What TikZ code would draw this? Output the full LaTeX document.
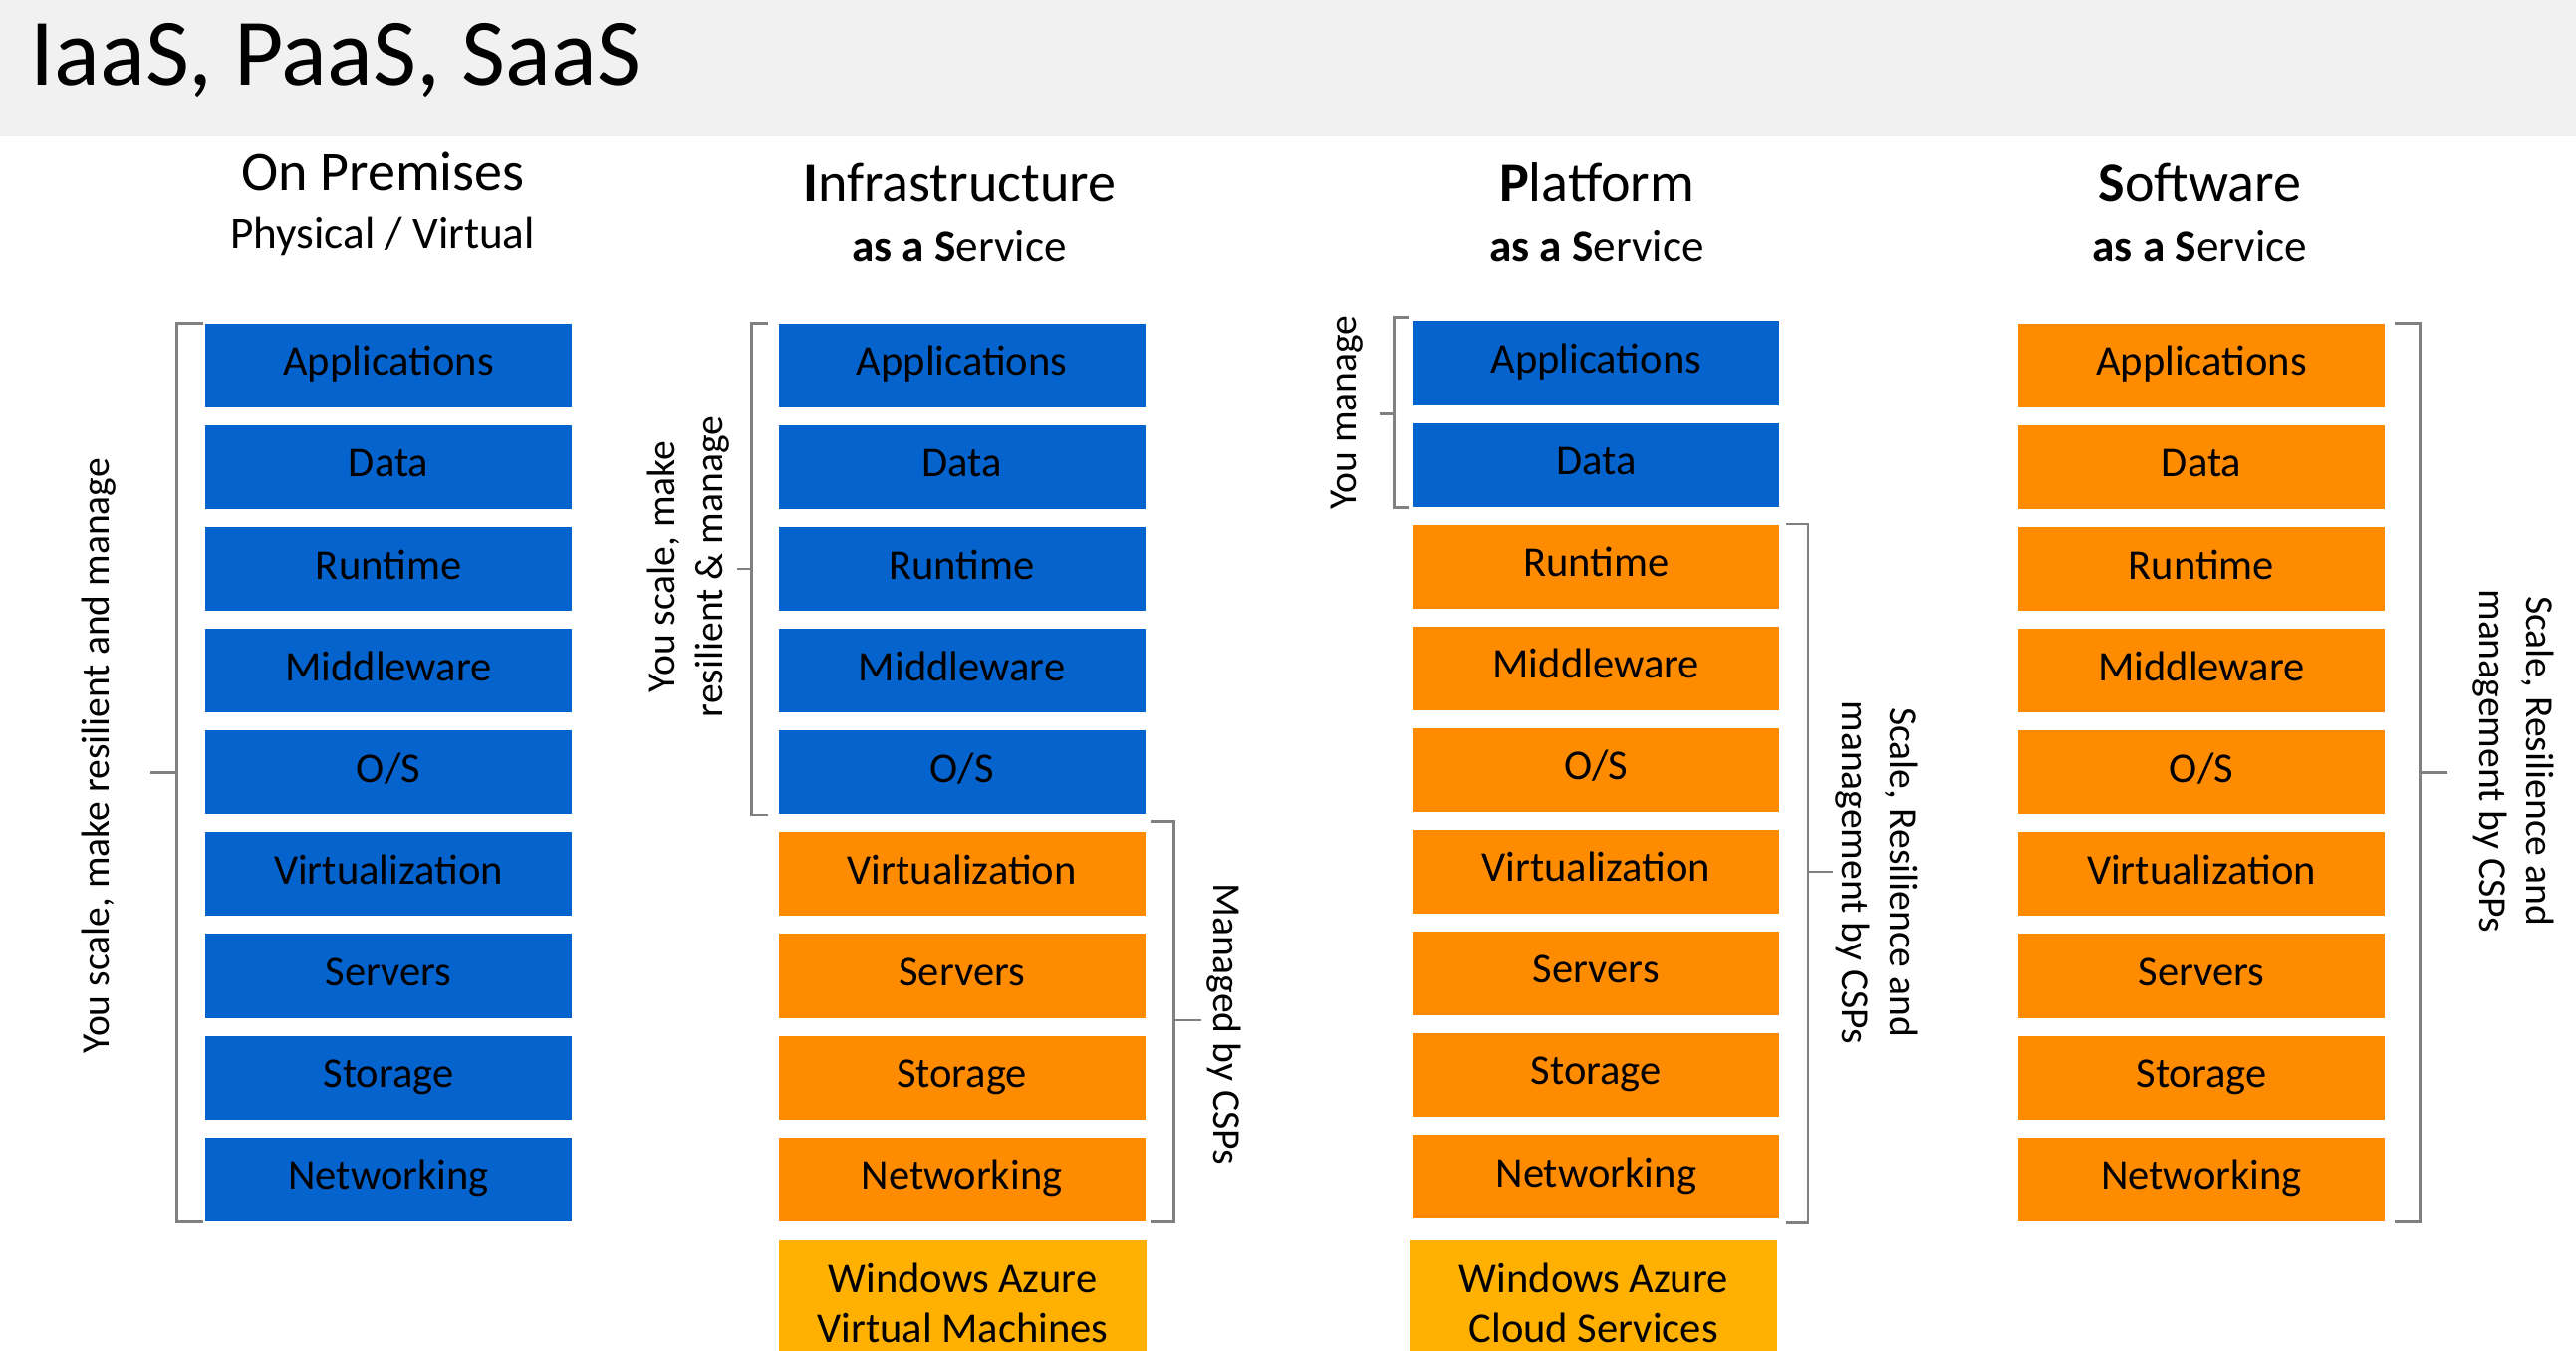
\documentclass[tikz,border=0pt]{standalone}
\usepackage{fontspec}
\setmainfont{Carlito}
\usetikzlibrary{calc}
\definecolor{layerblue}{RGB}{5,99,206}
\definecolor{layerorange}{RGB}{255,139,0}
\definecolor{azureyellow}{RGB}{255,176,0}
\definecolor{bargray}{RGB}{241,241,241}
\definecolor{bracegray}{RGB}{128,128,128}
\tikzset{
	layer/.style={minimum width=111.5pt, minimum height=25.5pt, inner sep=0pt, text height=9pt, text depth=3pt, font=\fontsize{12.9}{15}\selectfont},
	blue layer/.style={layer, fill=layerblue},
	orange layer/.style={layer, fill=layerorange},
	azure layer/.style={minimum width=112pt, minimum height=38pt, inner sep=0pt, fill=azureyellow, align=center, font=\fontsize{12.9}{15}\selectfont},
	brace line/.style={draw=bracegray, line width=0.8pt},
	side label/.style={inner sep=0pt, align=center, font=\fontsize{12}{14.5}\selectfont},
	head/.style={inner sep=0pt, anchor=base, font=\fontsize{17}{20}\selectfont},
	subhead/.style={inner sep=0pt, anchor=base, font=\fontsize{13.7}{16}\selectfont}
}

\begin{document}
\begin{tikzpicture}[x=0.5pt, y=-0.5pt]

	\useasboundingbox (0,0) rectangle (1568,822);
	\clip (0,0) rectangle (1568,822);
	\fill[white] (0,0) rectangle (1568,822);
	\fill[bargray] (0,0) rectangle (1568,83);

	\node[inner sep=0pt, anchor=base west, font=\fontsize{29}{34}\selectfont] (title) at (18,52) {IaaS, PaaS, SaaS};

	% column headings
	\node[head] (premHead) at (233,116) {On Premises};
	\node[subhead] (premSub) at (233,151) {Physical / Virtual};
	\node[head] (iaasHead) at (584,123) {\textbf{I}nfrastructure};
	\node[subhead] (iaasSub) at (584,159) {\textbf{as a S}ervice};
	\node[head] (paasHead) at (972,123) {\textbf{P}latform};
	\node[subhead] (paasSub) at (972,159) {\textbf{as a S}ervice};
	\node[head] (saasHead) at (1339,123) {\textbf{S}oftware};
	\node[subhead] (saasSub) at (1339,159) {\textbf{as a S}ervice};

	% on premises
	\node[blue layer] (op1) at (236.5,222.5) {Applications};
	\node[blue layer] (op2) at (236.5,284.4) {Data};
	\node[blue layer] (op3) at (236.5,346.3) {Runtime};
	\node[blue layer] (op4) at (236.5,408.2) {Middleware};
	\node[blue layer] (op5) at (236.5,470.1) {O/S};
	\node[blue layer] (op6) at (236.5,532) {Virtualization};
	\node[blue layer] (op7) at (236.5,593.9) {Servers};
	\node[blue layer] (op8) at (236.5,655.8) {Storage};
	\node[blue layer] (op9) at (236.5,717.7) {Networking};

	% infrastructure as a service
	\node[blue layer] (ia1) at (585.5,222.5) {Applications};
	\node[blue layer] (ia2) at (585.5,284.4) {Data};
	\node[blue layer] (ia3) at (585.5,346.3) {Runtime};
	\node[blue layer] (ia4) at (585.5,408.2) {Middleware};
	\node[blue layer] (ia5) at (585.5,470.1) {O/S};
	\node[orange layer] (ia6) at (585.5,532) {Virtualization};
	\node[orange layer] (ia7) at (585.5,593.9) {Servers};
	\node[orange layer] (ia8) at (585.5,655.8) {Storage};
	\node[orange layer] (ia9) at (585.5,717.7) {Networking};
	\node[azure layer] (iaAzure) at (586,793) {Windows Azure\\Virtual Machines};

	% platform as a service
	\node[blue layer] (pa1) at (971.5,221) {Applications};
	\node[blue layer] (pa2) at (971.5,282.9) {Data};
	\node[orange layer] (pa3) at (971.5,344.8) {Runtime};
	\node[orange layer] (pa4) at (971.5,406.7) {Middleware};
	\node[orange layer] (pa5) at (971.5,468.6) {O/S};
	\node[orange layer] (pa6) at (971.5,530.5) {Virtualization};
	\node[orange layer] (pa7) at (971.5,592.4) {Servers};
	\node[orange layer] (pa8) at (971.5,654.3) {Storage};
	\node[orange layer] (pa9) at (971.5,716.2) {Networking};
	\node[azure layer] (paAzure) at (970,793) {Windows Azure\\Cloud Services};

	% software as a service
	\node[orange layer] (sa1) at (1340,222.5) {Applications};
	\node[orange layer] (sa2) at (1340,284.4) {Data};
	\node[orange layer] (sa3) at (1340,346.3) {Runtime};
	\node[orange layer] (sa4) at (1340,408.2) {Middleware};
	\node[orange layer] (sa5) at (1340,470.1) {O/S};
	\node[orange layer] (sa6) at (1340,532) {Virtualization};
	\node[orange layer] (sa7) at (1340,593.9) {Servers};
	\node[orange layer] (sa8) at (1340,655.8) {Storage};
	\node[orange layer] (sa9) at (1340,717.7) {Networking};

	% brackets
	\draw[brace line] ([xshift=-0.5pt]op1.north west) -- ++(-16,0) |- ([xshift=-0.5pt]op9.south west);
	\draw[brace line] ($(op1.north west)!0.5!(op9.south west)+(-17,0)$) -- ++(-16,0);

	\draw[brace line] ([xshift=-3pt]ia1.north west) -- ++(-10,0) |- ([xshift=-3pt]ia5.south west);
	\draw[brace line] ($(ia1.north west)!0.5!(ia5.south west)+(-16,0)$) -- ++(-9,0);

	\draw[brace line] ([xshift=1.5pt,yshift=3pt]ia6.north east) -- ++(14,0) |- ([xshift=1.5pt]ia9.south east);
	\draw[brace line] ($(ia6.north east)!0.5!(ia9.south east)+(17,-4)$) -- ++(17,0);

	\draw[brace line] ([xshift=-1pt,yshift=1pt]pa1.north west) -- ++(-9,0) |- ([xshift=-1pt]pa2.south west);
	\draw[brace line] ($(pa1.north west)!0.5!(pa2.south west)+(-11,0)$) -- ++(-9,0);

	\draw[brace line] ([xshift=2pt]pa3.north east) -- ++(13,0) |- ([xshift=2pt,yshift=-1pt]pa9.south east);
	\draw[brace line] ($(pa3.north east)!0.5!(pa9.south east)+(17,0)$) -- ++(15,0);

	\draw[brace line] ([xshift=3pt]sa1.north east) -- ++(15,0) |- ([xshift=3pt]sa9.south east);
	\draw[brace line] ($(sa1.north east)!0.5!(sa9.south east)+(21,0)$) -- ++(17,0);

	% bracket labels
	\node[side label, rotate=90] (premLabel) at (60,460) {You scale, make resilient and manage};
	\node[side label, rotate=90] (iaasLabel) at (419,345) {You scale, make\\resilient \& manage};
	\node[side label, rotate=-90] (iaasCsp) at (745,623) {Managed by CSPs};
	\node[side label, rotate=90] (paasLabel) at (820,251) {You manage};
	\node[side label, rotate=-90] (paasCsp) at (1142,531) {Scale, Resilience and\\management by CSPs};
	\node[side label, rotate=-90] (saasCsp) at (1530,463) {Scale, Resilience and\\management by CSPs};

\end{tikzpicture}
\end{document}
